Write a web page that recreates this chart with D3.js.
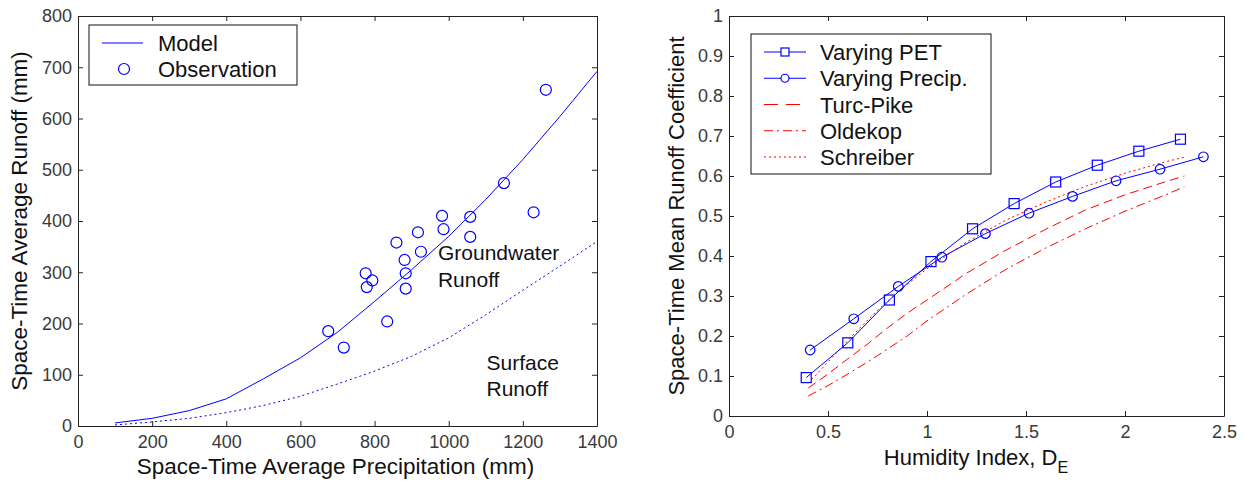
<!DOCTYPE html>
<html>
<head>
<meta charset="utf-8">
<script src="https://cdn.jsdelivr.net/npm/d3@7"></script>
<style>
  body { margin: 0; background: #fff; }
  svg text { font-family: "Liberation Sans", Arial, sans-serif; }
</style>
</head>
<body>
<div id="chart"></div>
<script>
// left panel: runoff vs precipitation
const modelPrecip = [100, 200, 300, 400, 500, 600, 700, 800, 900, 1000, 1100, 1200, 1300, 1400];
const modelRunoff = [6, 15, 30, 53, 92, 133, 183, 243, 305, 370, 442, 520, 604, 692];
const surfaceRunoff = [2, 8, 15, 26, 40, 58, 82, 107, 136, 172, 217, 265, 312, 360];
const obsPrecip = [675, 717, 776, 779, 794, 834, 859, 881, 884, 884, 917, 925, 982, 986, 1058, 1058, 1149, 1229, 1262];
const obsRunoff = [185, 153, 298, 271, 284, 204, 358, 324, 298, 268, 378, 340, 410, 384, 408, 369, 474, 417, 656];
const leftXTicks = [0, 200, 400, 600, 800, 1000, 1200, 1400];
const leftYTicks = [0, 100, 200, 300, 400, 500, 600, 700, 800];

// right panel: runoff coefficient vs humidity index
const petX = [0.39, 0.60, 0.81, 1.02, 1.23, 1.44, 1.65, 1.86, 2.07, 2.28];
const petY = [0.096, 0.183, 0.29, 0.386, 0.468, 0.531, 0.585, 0.627, 0.662, 0.692];
const precX = [0.41, 0.63, 0.855, 1.075, 1.295, 1.515, 1.735, 1.955, 2.177, 2.396];
const precY = [0.165, 0.243, 0.324, 0.397, 0.456, 0.507, 0.549, 0.588, 0.617, 0.648];
const curveX = [0.4, 0.5, 0.6, 0.7, 0.8, 0.9, 1.0, 1.2, 1.4, 1.6, 1.8, 2.0, 2.2, 2.3];
const turcPike = [0.07, 0.105, 0.143, 0.18, 0.22, 0.257, 0.29, 0.357, 0.415, 0.467, 0.515, 0.553, 0.585, 0.60];
const oldekop = [0.05, 0.076, 0.105, 0.135, 0.167, 0.2, 0.238, 0.305, 0.367, 0.42, 0.468, 0.512, 0.552, 0.573];
const schreiber = [0.082, 0.135, 0.189, 0.24, 0.287, 0.329, 0.368, 0.435, 0.49, 0.535, 0.574, 0.607, 0.635, 0.647];
const rightXTicks = [0, 0.5, 1, 1.5, 2, 2.5];
const rightYTicks = [0, 0.1, 0.2, 0.3, 0.4, 0.5, 0.6, 0.7, 0.8, 0.9, 1];

const width = 1245, height = 481;
const svg = d3.select("#chart").append("svg")
    .attr("width", width)
    .attr("height", height);

const blue = "#0000ff", red = "#ff0000";

function drawAxes(x, y, xTicks, yTicks, fmtX, fmtY) {
    const [x0, x1] = x.range();
    const [y0, y1] = y.range();
    const g = svg.append("g");

    g.append("g").attr("transform", `translate(0,${y0})`)
        .call(d3.axisBottom(x).tickValues(xTicks).tickFormat(fmtX).tickSizeInner(-5).tickSizeOuter(0).tickPadding(9));
    g.append("g").attr("transform", `translate(${x0},0)`)
        .call(d3.axisLeft(y).tickValues(yTicks).tickFormat(fmtY).tickSizeInner(-5).tickSizeOuter(0).tickPadding(6));
    g.append("g").attr("transform", `translate(0,${y1})`)
        .call(d3.axisTop(x).tickValues(xTicks).tickFormat("").tickSizeInner(-5).tickSizeOuter(0));
    g.append("g").attr("transform", `translate(${x1},0)`)
        .call(d3.axisRight(y).tickValues(yTicks).tickFormat("").tickSizeInner(-5).tickSizeOuter(0));

    g.selectAll(".domain, .tick line").attr("stroke", "#222").attr("stroke-width", 1);
    g.selectAll(".tick text")
        .attr("font-family", "Liberation Sans, Arial, sans-serif")
        .attr("font-size", 18)
        .attr("fill", "#3a3a3a");
    return g;
}

// ---------- left panel ----------
const xL = d3.scaleLinear().domain([0, 1400]).range([78, 597]);
const yL = d3.scaleLinear().domain([0, 800]).range([426, 16]);

drawAxes(xL, yL, leftXTicks, leftYTicks, d3.format("d"), d3.format("d"));

const lineL = d3.line().x(d => xL(d[0])).y(d => yL(d[1]));

svg.append("path")
    .attr("d", lineL(modelPrecip.map((p, i) => [p, modelRunoff[i]])))
    .attr("fill", "none").attr("stroke", blue).attr("stroke-width", 1);

svg.append("path")
    .attr("d", lineL(modelPrecip.map((p, i) => [p, surfaceRunoff[i]])))
    .attr("fill", "none").attr("stroke", blue).attr("stroke-width", 1)
    .attr("stroke-dasharray", "2,3");

svg.append("g").selectAll("circle")
    .data(obsPrecip.map((p, i) => [p, obsRunoff[i]]))
    .join("circle")
    .attr("cx", d => xL(d[0]))
    .attr("cy", d => yL(d[1]))
    .attr("r", 5.5)
    .attr("fill", "none")
    .attr("stroke", blue)
    .attr("stroke-width", 1.2);

const noteL = svg.append("g").attr("font-size", 21).attr("fill", "#111");
noteL.append("text").attr("x", xL(971)).attr("y", yL(324)).text("Groundwater");
noteL.append("text").attr("x", xL(971)).attr("y", yL(272)).text("Runoff");
noteL.append("text").attr("x", xL(1102)).attr("y", yL(109)).text("Surface");
noteL.append("text").attr("x", xL(1102)).attr("y", yL(59)).text("Runoff");

svg.append("text")
    .attr("x", (xL.range()[0] + xL.range()[1]) / 2 - 2)
    .attr("y", 474)
    .attr("text-anchor", "middle")
    .attr("font-size", 22.5)
    .attr("fill", "#111")
    .text("Space-Time Average Precipitation (mm)");

svg.append("text")
    .attr("transform", `translate(27,${(yL.range()[0] + yL.range()[1]) / 2}) rotate(-90)`)
    .attr("text-anchor", "middle")
    .attr("font-size", 22.5)
    .attr("fill", "#111")
    .text("Space-Time Average Runoff (mm)");

// left legend
const legL = svg.append("g");
legL.append("rect").attr("x", 89).attr("y", 25).attr("width", 208).attr("height", 60)
    .attr("fill", "#fff").attr("stroke", "#111").attr("stroke-width", 1);
legL.append("line").attr("x1", 102).attr("x2", 143).attr("y1", 43).attr("y2", 43)
    .attr("stroke", blue).attr("stroke-width", 1);
legL.append("circle").attr("cx", 124).attr("cy", 69).attr("r", 5.5)
    .attr("fill", "none").attr("stroke", blue).attr("stroke-width", 1.2);
legL.append("text").attr("x", 158).attr("y", 51).attr("font-size", 22).attr("fill", "#111").text("Model");
legL.append("text").attr("x", 158).attr("y", 77).attr("font-size", 22).attr("fill", "#111").text("Observation");

// ---------- right panel ----------
const xR = d3.scaleLinear().domain([0, 2.5]).range([729, 1224]);
const yR = d3.scaleLinear().domain([0, 1]).range([416, 16]);

drawAxes(xR, yR, rightXTicks, rightYTicks, d3.format("~g"), d3.format("~g"));

const lineR = d3.line().x(d => xR(d[0])).y(d => yR(d[1]));

const redCurves = [
    {values: turcPike, dash: "9,5"},
    {values: oldekop, dash: "9,4,2,4"},
    {values: schreiber, dash: "2,3"}
];
redCurves.forEach(c => {
    svg.append("path")
        .attr("d", lineR(curveX.map((x, i) => [x, c.values[i]])))
        .attr("fill", "none").attr("stroke", red).attr("stroke-width", 1)
        .attr("stroke-dasharray", c.dash);
});

svg.append("path")
    .attr("d", lineR(petX.map((x, i) => [x, petY[i]])))
    .attr("fill", "none").attr("stroke", blue).attr("stroke-width", 1);
svg.append("g").selectAll("rect")
    .data(petX.map((x, i) => [x, petY[i]]))
    .join("rect")
    .attr("x", d => xR(d[0]) - 5)
    .attr("y", d => yR(d[1]) - 5)
    .attr("width", 10).attr("height", 10)
    .attr("fill", "none").attr("stroke", blue).attr("stroke-width", 1.2);

svg.append("path")
    .attr("d", lineR(precX.map((x, i) => [x, precY[i]])))
    .attr("fill", "none").attr("stroke", blue).attr("stroke-width", 1);
svg.append("g").selectAll("circle")
    .data(precX.map((x, i) => [x, precY[i]]))
    .join("circle")
    .attr("cx", d => xR(d[0]))
    .attr("cy", d => yR(d[1]))
    .attr("r", 4.8)
    .attr("fill", "none")
    .attr("stroke", blue).attr("stroke-width", 1.2);

const xTitleR = svg.append("text")
    .attr("x", 976)
    .attr("y", 465)
    .attr("text-anchor", "middle")
    .attr("font-size", 22)
    .attr("fill", "#111");
xTitleR.append("tspan").text("Humidity Index, D");
xTitleR.append("tspan").attr("font-size", 16).attr("dy", 8).text("E");

svg.append("text")
    .attr("transform", `translate(684,${(yR.range()[0] + yR.range()[1]) / 2}) rotate(-90)`)
    .attr("text-anchor", "middle")
    .attr("font-size", 22)
    .attr("fill", "#111")
    .text("Space-Time Mean Runoff Coefficient");

// right legend
const legendR = [
    {label: "Varying PET", color: blue, dash: null, marker: "square"},
    {label: "Varying Precip.", color: blue, dash: null, marker: "circle"},
    {label: "Turc-Pike", color: red, dash: "14,8", marker: null},
    {label: "Oldekop", color: red, dash: "9,4,2,4", marker: null},
    {label: "Schreiber", color: red, dash: "2,3", marker: null}
];
const legR = svg.append("g");
legR.append("rect").attr("x", 751).attr("y", 34).attr("width", 240).attr("height", 140)
    .attr("fill", "#fff").attr("stroke", "#111").attr("stroke-width", 1);
const rowY = d3.scalePoint().domain(legendR.map(d => d.label)).range([52, 157]);
legendR.forEach(d => {
    const yy = rowY(d.label);
    legR.append("line").attr("x1", 764).attr("x2", 806).attr("y1", yy).attr("y2", yy)
        .attr("stroke", d.color).attr("stroke-width", 1)
        .attr("stroke-dasharray", d.dash);
    if (d.marker === "square") {
        legR.append("rect").attr("x", 781).attr("y", yy - 4).attr("width", 8).attr("height", 8)
            .attr("fill", "#fff").attr("stroke", blue).attr("stroke-width", 1.2);
    } else if (d.marker === "circle") {
        legR.append("circle").attr("cx", 785).attr("cy", yy).attr("r", 4)
            .attr("fill", "#fff").attr("stroke", blue).attr("stroke-width", 1.2);
    }
    legR.append("text").attr("x", 820).attr("y", yy + 8).attr("font-size", 22).attr("fill", "#111").text(d.label);
});
</script>
</body>
</html>
